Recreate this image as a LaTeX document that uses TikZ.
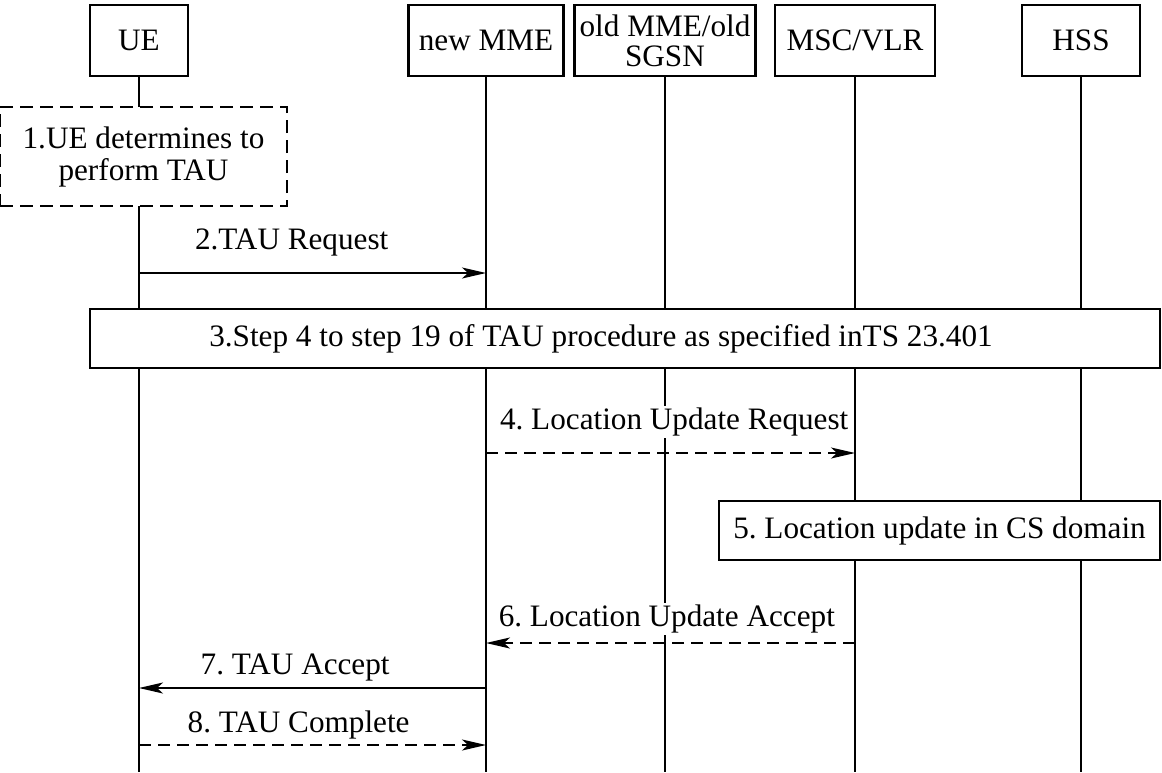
\documentclass[tikz,border=0pt]{standalone}
\usepackage{fontspec}
\setmainfont{Liberation Serif}
\usetikzlibrary{arrows.meta}
\frenchspacing

\begin{document}
\begin{tikzpicture}[
    x=0.5pt, y=-0.5pt,
    txt/.style={font=\fontsize{15.6}{16}\selectfont},
    entity/.style={rectangle, draw, line width=1.3pt, minimum height=35.5pt, align=center, inner sep=1pt, font=\fontsize{15.6}{15}\selectfont},
    action/.style={rectangle, draw, fill=white, line width=1.2pt, minimum height=29.5pt, txt},
    localbox/.style={rectangle, draw, fill=white, line width=0.9pt, dash pattern=on 6.5pt off 3.5pt, minimum width=143.5pt, minimum height=49.5pt, align=center, txt},
    lifeline/.style={line width=0.7pt},
    msg/.style={-{Stealth[length=12pt, width=5.5pt, inset=3pt]}, line width=0.9pt},
    dashedmsg/.style={msg, dash pattern=on 6pt off 3.5pt},
    lbl/.style={fill=white, inner sep=1pt, txt}
]
\useasboundingbox (0,0) rectangle (1162,772);

% Entities (top row)
\node[entity, minimum width=49pt] (ue) at (139,40.5) {UE};
\node[entity, minimum width=77.5pt] (newmme) at (486,40.5) {new MME};
\node[entity, minimum width=90.5pt] (oldmme) at (665,40.5) {old MME/old\\SGSN};
\node[entity, minimum width=80pt] (msc) at (855,40.5) {MSC/VLR};
\node[entity, minimum width=59pt] (hss) at (1081,40.5) {HSS};

% Lifelines
\coordinate (bottom) at (0,772);
\foreach \n in {ue, newmme, oldmme, msc, hss} {
   \draw[lifeline] (\n.south) -- (\n.south |- bottom);
}

% Message levels
\coordinate (m2) at (0,273);
\coordinate (m4) at (0,453);
\coordinate (m6) at (0,643);
\coordinate (m7) at (0,688);
\coordinate (m8) at (0,745);

% Steps
\node[localbox] (decide) at (143.5,156.5) {1.UE determines to\\perform TAU};
\draw[msg] (ue |- m2) -- (newmme |- m2) node[lbl, pos=0.44, above=7pt] {2.TAU Request};
\node[action, minimum width=535pt] (tau) at (625,338.5) {3.Step 4 to step 19 of TAU procedure as specified inTS 23.401\hspace*{24pt}};
\draw[dashedmsg] (newmme |- m4) -- (msc |- m4) node[lbl, pos=0.51, above=7pt] {4. Location Update Request};
\node[action, minimum width=220.5pt] (csupd) at (939.5,530.5) {5. Location update in CS domain};
\draw[dashedmsg] (msc |- m6) -- (newmme |- m6) node[lbl, pos=0.51, above=3.5pt] {6. Location Update Accept};
\draw[msg] (newmme |- m7) -- (ue |- m7) node[lbl, pos=0.55, above=2pt] {7. TAU Accept};
\draw[dashedmsg] (ue |- m8) -- (newmme |- m8) node[lbl, pos=0.46, above=1.5pt] {8. TAU Complete};

\end{tikzpicture}
\end{document}
